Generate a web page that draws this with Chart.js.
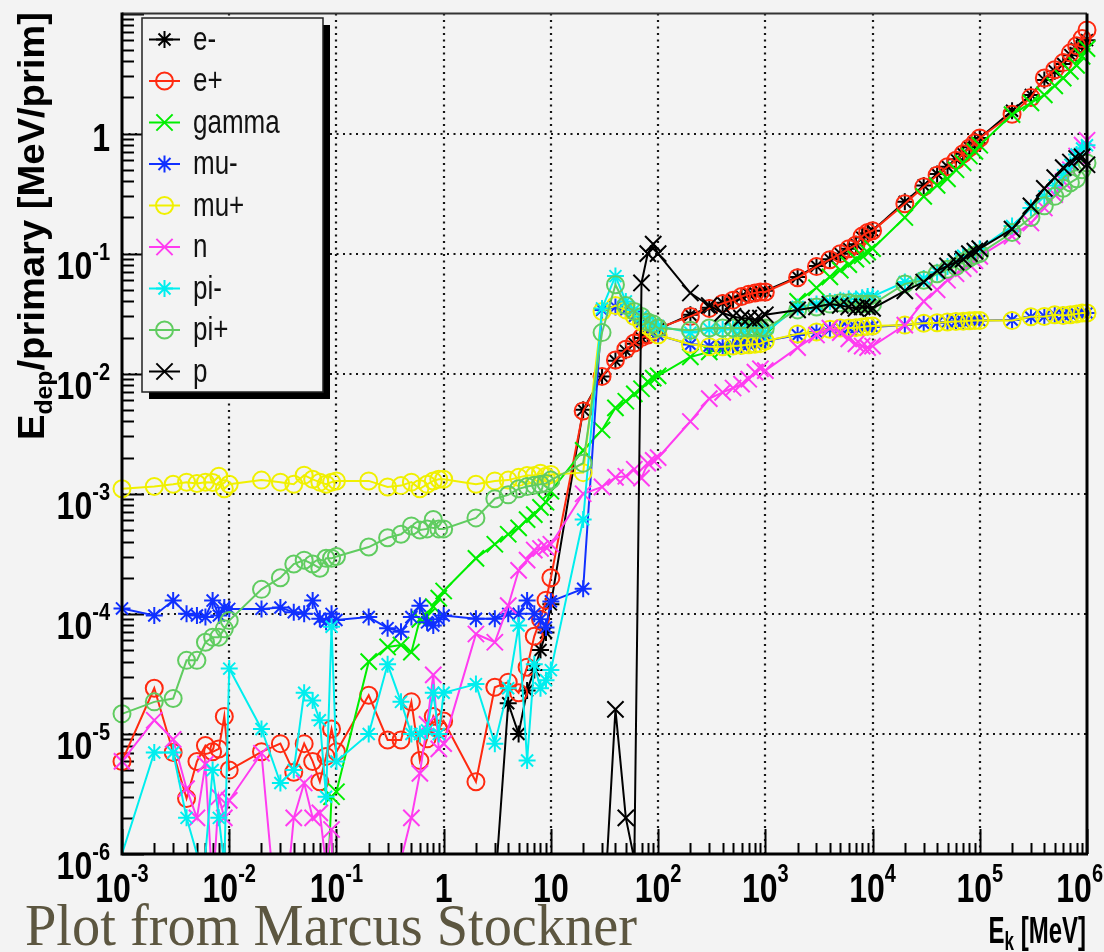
<!DOCTYPE html>
<html>
<head>
<meta charset="utf-8">
<script src="https://cdn.jsdelivr.net/npm/chart.js@4.4.1/dist/chart.umd.min.js"></script>
<style>
  html, body { margin: 0; padding: 0; background: #f3f3f3; }
  #wrap { width: 1104px; height: 952px; }
</style>
</head>
<body>
<div id="wrap"><canvas id="c" width="1104" height="952"></canvas></div>
<script>
// kinetic energy grid [MeV]
const energies = [
  0.001, 0.002, 0.003, 0.004, 0.005, 0.006, 0.007, 0.008, 0.009,
  0.01, 0.02, 0.03, 0.04, 0.05, 0.06, 0.07, 0.08, 0.09,
  0.1, 0.2, 0.3, 0.4, 0.5, 0.6, 0.7, 0.8, 0.9,
  1, 2, 3, 4, 5, 6, 7, 8, 9,
  10, 20, 30, 40, 50, 60, 70, 80, 90,
  100, 200, 300, 400, 500, 600, 700, 800, 900,
  1e3, 2e3, 3e3, 4e3, 5e3, 6e3, 7e3, 8e3, 9e3,
  1e4, 2e4, 3e4, 4e4, 5e4, 6e4, 7e4, 8e4, 9e4,
  1e5, 2e5, 3e5, 4e5, 5e5, 6e5, 7e5, 8e5, 9e5,
  1e6
];

const N = null;

const eMinus = [
  N, N, N, N, N, N, N, N, N,
  N, N, N, N, N, N, N, N, N,
  N, N, N, N, N, N, N, N, N,
  N, N, 5e-7, 1.8e-5, 1.0e-5, 2.3e-5, 3.4e-5, 5e-5, 7e-5,
  1.2e-4, 5.0e-3, 9.5e-3, 0.0128, 0.0155, 0.0178, 0.0198, 0.021, 0.022,
  0.0235, 0.031, 0.0355, 0.039, 0.0415, 0.044, 0.046, 0.047, 0.0485,
  0.049, 0.064, 0.079, 0.09, 0.1, 0.11, 0.12, 0.136, 0.148,
  0.155, 0.27, 0.37, 0.46, 0.53, 0.61, 0.68, 0.77, 0.84,
  0.92, 1.55, 2.1, 2.8, 3.3, 3.8, 4.5, 5.1, 5.6,
  6.0
];

const ePlus = [
  5.9e-6, 2.4e-5, 7e-6, 2.9e-6, 5.9e-6, 8e-6, 7.1e-6, 7.5e-6, 1.4e-5,
  5e-6, 7.1e-6, 8.3e-6, 4.8e-6, 8.3e-6, 5.9e-6, 4e-6, 6.5e-6, 1.1e-5,
  7.1e-6, 2.1e-5, 8.9e-6, 8.9e-6, 1.85e-5, 6e-6, 9.1e-6, 1.4e-5, 1.1e-5,
  1.28e-5, 4e-6, 2.45e-5, 2.7e-5, 2.2e-5, 3.6e-5, 6.5e-5, 9e-5, 1.3e-4,
  2e-4, 4.9e-3, 9.5e-3, 0.013, 0.016, 0.018, 0.02, 0.021, 0.022,
  0.024, 0.03, 0.035, 0.0385, 0.041, 0.044, 0.046, 0.047, 0.048,
  0.048, 0.063, 0.078, 0.089, 0.1, 0.11, 0.118, 0.14, 0.15,
  0.155, 0.26, 0.36, 0.45, 0.53, 0.6, 0.68, 0.76, 0.84,
  0.92, 1.45, 2.0, 2.9, 3.4, 3.9, 4.7, 5.4, 6.2,
  7.3
];

const gamma = [
  N, N, N, N, N, N, N, N, N,
  N, N, N, N, N, N, N, 3e-7, 3e-6,
  3.3e-6, 4e-5, 5.3e-5, 5.5e-5, 4.8e-5, 9e-5, 9.5e-5, 1.15e-4, 1.35e-4,
  1.55e-4, 2.9e-4, 3.8e-4, 4.6e-4, 5.2e-4, 6.1e-4, 6.7e-4, 7.7e-4, 8.5e-4,
  1.05e-3, 2.3e-3, 3.4e-3, 5.2e-3, 5.9e-3, 6.8e-3, 7.5e-3, 8.6e-3, 9.2e-3,
  9.6e-3, 0.0138, 0.0152, 0.016, 0.017, 0.018, 0.019, 0.0195, 0.02,
  0.021, 0.04, 0.052, 0.064, 0.073, 0.081, 0.09, 0.096, 0.103,
  0.11, 0.2, 0.3, 0.37, 0.42, 0.5, 0.57, 0.65, 0.71,
  0.8, 1.44, 1.8, 2.1, 2.5, 2.9, 3.3, 3.7, 4.4,
  5.1
];

const muMinus = [
  1.11e-4, 9.7e-5, 1.29e-4, 1.0e-4, 9.7e-5, 9.4e-5, 1.29e-4, 9.7e-5, 1.13e-4,
  1.1e-4, 1.1e-4, 1.13e-4, 1.03e-4, 1.0e-4, 1.29e-4, 9.1e-5, 8.6e-5, 1.0e-4,
  8.9e-5, 9.4e-5, 7.6e-5, 7.1e-5, 9.4e-5, 1.17e-4, 8.5e-5, 8.0e-5, 9.0e-5,
  9.7e-5, 9.1e-5, 9.1e-5, 1.0e-4, 1.0e-4, 1.29e-4, 1.0e-4, 9.0e-5, 7.7e-5,
  1.27e-4, 1.62e-4, 0.034, 0.036, 0.034, 0.03, 0.027, 0.025, 0.023,
  0.021, 0.0175, 0.017, 0.017, 0.0172, 0.0175, 0.0175, 0.0178, 0.018,
  0.0187, 0.021, 0.0223, 0.0235, 0.024, 0.024, 0.0242, 0.0245, 0.0245,
  0.0245, 0.0254, 0.0262, 0.0265, 0.027, 0.0272, 0.0272, 0.0275, 0.0277,
  0.0277, 0.028, 0.0295, 0.03, 0.031, 0.031, 0.0312, 0.0315, 0.032,
  0.032
];

const muPlus = [
  1.1e-3, 1.15e-3, 1.2e-3, 1.25e-3, 1.22e-3, 1.25e-3, 1.24e-3, 1.4e-3, 1.1e-3,
  1.2e-3, 1.3e-3, 1.25e-3, 1.2e-3, 1.43e-3, 1.32e-3, 1.25e-3, 1.2e-3, 1.25e-3,
  1.28e-3, 1.28e-3, 1.14e-3, 1.17e-3, 1.25e-3, 1.1e-3, 1.2e-3, 1.28e-3, 1.32e-3,
  1.32e-3, 1.2e-3, 1.28e-3, 1.3e-3, 1.37e-3, 1.42e-3, 1.42e-3, 1.48e-3, 1.4e-3,
  1.45e-3, 1.5e-3, 0.033, 0.037, 0.034, 0.03, 0.027, 0.025, 0.023,
  0.021, 0.0176, 0.0168, 0.0168, 0.017, 0.0172, 0.0174, 0.0176, 0.0178,
  0.0187, 0.0214, 0.0223, 0.0235, 0.024, 0.024, 0.0242, 0.0245, 0.0248,
  0.025, 0.0254, 0.0263, 0.0266, 0.027, 0.0272, 0.0274, 0.0276, 0.0277,
  0.0277, 0.0277, 0.0298, 0.03, 0.031, 0.0305, 0.031, 0.0315, 0.032,
  0.032
];

const neutron = [
  5.9e-6, 1.3e-5, 9e-6, 3.5e-6, 2e-6, 5.6e-6, 5e-7, 3e-6, 2e-6,
  2.8e-6, 6.9e-6, 1.3e-7, 2e-6, 3.9e-6, 2e-6, 2.2e-6, 8e-7, 1.6e-6,
  1e-8, 1e-8, 1e-8, 9e-7, 2e-6, 4.7e-6, 1.2e-5, 3.1e-5, 7.5e-6,
  8.3e-6, 6.8e-5, 5.8e-5, 1.17e-4, 2.3e-4, 2.8e-4, 3.4e-4, 3.5e-4, 3.6e-4,
  3.8e-4, 1e-3, 1.14e-3, 1.37e-3, 1.4e-3, 1.6e-3, 1.35e-3, 1.8e-3, 1.9e-3,
  2e-3, 4e-3, 6.2e-3, 7e-3, 7.6e-3, 8.2e-3, 9e-3, 0.0103, 0.011,
  0.0106, 0.0165, 0.021, 0.024, 0.022, 0.0195, 0.0177, 0.017, 0.0165,
  0.017, 0.0254, 0.04, 0.05, 0.06, 0.068, 0.075, 0.081, 0.087,
  0.095, 0.14, 0.18, 0.24, 0.31, 0.4, 0.5, 0.65, 0.8,
  0.88
];

const piMinus = [
  1e-6, 7e-6, 7e-6, 2e-6, 1e-6, 1e-6, 5e-6, 2e-6, 8e-7,
  3.5e-5, 1.1e-5, 3.9e-6, 5e-6, 2.2e-5, 1.9e-5, 1.3e-5, 3e-6, 7.8e-5,
  5.9e-6, 1.0e-5, 3.8e-5, 1.85e-5, 1.0e-5, 1.0e-5, 1.07e-5, 2.2e-5, 1.0e-5,
  2.2e-5, 2.6e-5, 8.3e-6, 2.4e-5, 8e-5, 6e-6, 3.8e-5, 2.4e-5, 2.8e-5,
  3.4e-5, 6.1e-4, 0.035, 0.065, 0.04, 0.034, 0.03, 0.027, 0.026,
  0.025, 0.022, 0.0235, 0.0235, 0.0235, 0.0235, 0.024, 0.024, 0.024,
  0.022, 0.036, 0.038, 0.04, 0.041, 0.042, 0.042, 0.043, 0.044,
  0.044, 0.058, 0.062, 0.07, 0.078, 0.085, 0.096, 0.1, 0.105,
  0.11, 0.17, 0.24, 0.3, 0.37, 0.45, 0.55, 0.67, 0.75,
  0.8
];

const piPlus = [
  1.47e-5, 1.85e-5, 1.97e-5, 4.1e-5, 4.1e-5, 5.8e-5, 6.4e-5, 6.4e-5, 7.5e-5,
  8.8e-5, 1.6e-4, 2.0e-4, 2.6e-4, 2.8e-4, 2.6e-4, 2.4e-4, 2.9e-4, 2.9e-4,
  3.0e-4, 3.6e-4, 4.3e-4, 4.6e-4, 5.4e-4, 5.0e-4, 5.1e-4, 6.1e-4, 5.1e-4,
  5.1e-4, 6.3e-4, 9.1e-4, 9.8e-4, 1.1e-3, 1.15e-3, 1.18e-3, 1.2e-3, 1.22e-3,
  1.3e-3, 1.8e-3, 0.022, 0.055, 0.037, 0.033, 0.03, 0.027, 0.026,
  0.024, 0.023, 0.024, 0.024, 0.024, 0.024, 0.024, 0.024, 0.024,
  0.024, 0.034, 0.036, 0.038, 0.039, 0.039, 0.038, 0.038, 0.038,
  0.038, 0.056, 0.06, 0.068, 0.074, 0.078, 0.085, 0.092, 0.097,
  0.1, 0.15, 0.2, 0.25, 0.3, 0.35, 0.39, 0.42, 0.5,
  0.57
];

const proton = [
  N, N, N, N, N, N, N, N, N,
  N, N, N, N, N, N, N, N, N,
  N, N, N, N, N, N, N, N, N,
  N, N, N, N, N, N, N, N, N,
  N, N, 1.7e-7, 1.6e-5, 2e-6, 9e-7, 0.057, 0.1, 0.12,
  0.1, 0.047, 0.037, 0.032, 0.03, 0.029, 0.029, 0.028, 0.029,
  0.031, 0.034, 0.036, 0.038, 0.037, 0.036, 0.035, 0.036, 0.036,
  0.035, 0.049, 0.058, 0.072, 0.079, 0.085, 0.09, 0.1, 0.105,
  0.11, 0.16, 0.25, 0.35, 0.43, 0.52, 0.58, 0.62, 0.64,
  0.55
];

const seriesNames = ['e-', 'e+', 'gamma', 'mu-', 'mu+', 'n', 'pi-', 'pi+', 'p'];
const seriesValues = [eMinus, ePlus, gamma, muMinus, muPlus, neutron, piMinus, piPlus, proton];
const seriesColors = ['#000000', '#ff2a10', '#00ee00', '#1030ff', '#f0f000', '#ff3cf0', '#00eeee', '#60cc60', '#000000'];
const seriesMarkers = ['star', 'circle', 'crossRot', 'star', 'circle', 'crossRot', 'star', 'circle', 'crossRot'];

const xTickValues = [1e-3, 1e-2, 1e-1, 1, 10, 1e2, 1e3, 1e4, 1e5, 1e6];
const xTickLabels = ['10^-3', '10^-2', '10^-1', '1', '10', '10^2', '10^3', '10^4', '10^5', '10^6'];
const yTickValues = [1e-6, 1e-5, 1e-4, 1e-3, 1e-2, 1e-1, 1];
const yTickLabels = ['10^-6', '10^-5', '10^-4', '10^-3', '10^-2', '10^-1', '1'];

const markerRadius = { star: 8.5, circle: 8.5, crossRot: 11.5 };

function boldFont(px) { return 'bold ' + px + 'px "Liberation Sans", Arial, Helvetica, sans-serif'; }
function plainFont(px) { return px + 'px "Liberation Sans", Arial, Helvetica, sans-serif'; }

function stretchText(c, s, x, y, font, sy) {
  c.save();
  c.font = font;
  c.textAlign = 'left';
  c.textBaseline = 'alphabetic';
  c.translate(x, y);
  c.scale(1, sy);
  c.fillText(s, 0, 0);
  c.restore();
}

// "10^-3" -> 10 with a raised exponent
function powerLabel(c, label, x, y, align, baseSize, expSize, sy, rise, maxRight) {
  const parts = label.split('^');
  c.font = boldFont(baseSize);
  const wb = c.measureText(parts[0]).width;
  let we = 0;
  if (parts[1]) { c.font = boldFont(expSize); we = c.measureText(parts[1]).width; }
  const total = wb + we;
  let x0 = align === 'right' ? x - total : (align === 'center' ? x - total / 2 : x);
  if (maxRight && x0 + total > maxRight) x0 = maxRight - total;
  stretchText(c, parts[0], x0, y, boldFont(baseSize), sy);
  if (parts[1]) stretchText(c, parts[1], x0 + wb, y - rise, boldFont(expSize), sy);
}

const rootLook = {
  id: 'rootLook',
  beforeDraw(chart) {
    const c = chart.ctx;
    c.save();
    c.fillStyle = '#f3f3f3';
    c.fillRect(0, 0, chart.width, chart.height);
    c.restore();
  },
  beforeDatasetsDraw(chart) {
    const c = chart.ctx;
    const a = chart.chartArea;
    const xs = chart.scales.x, ys = chart.scales.y;
    c.save();
    // dotted grid at the decades
    c.strokeStyle = '#141414';
    c.lineWidth = 2.2;
    c.setLineDash([2, 4.5]);
    xTickValues.forEach(v => {
      const px = Math.round(xs.getPixelForValue(v));
      if (px <= a.left + 2 || px >= a.right - 2) return;
      c.beginPath(); c.moveTo(px, a.bottom); c.lineTo(px, a.top); c.stroke();
    });
    yTickValues.forEach(v => {
      const py = Math.round(ys.getPixelForValue(v));
      if (py >= a.bottom - 2 || py <= a.top + 2) return;
      c.beginPath(); c.moveTo(a.left, py); c.lineTo(a.right, py); c.stroke();
    });
    c.setLineDash([]);
    // tick marks inside the frame
    c.strokeStyle = '#000';
    c.lineWidth = 2;
    for (let n = -3; n <= 6; n++) {
      for (let d = 1; d <= 9; d++) {
        const v = d * Math.pow(10, n);
        if (v > 1e6 * 1.0001) break;
        const px = Math.round(xs.getPixelForValue(v)) + 0.5;
        const len = d === 1 ? 25 : 11;
        c.beginPath(); c.moveTo(px, a.bottom); c.lineTo(px, a.bottom - len); c.stroke();
      }
    }
    for (let n = -6; n <= 1; n++) {
      for (let d = 1; d <= 9; d++) {
        const v = d * Math.pow(10, n);
        if (v > 10 * 1.0001) break;
        const py = Math.round(ys.getPixelForValue(v)) + 0.5;
        const len = d === 1 ? 22 : 12;
        c.beginPath(); c.moveTo(a.left, py); c.lineTo(a.left + len, py); c.stroke();
      }
    }
    c.restore();
  },
  afterDatasetsDraw(chart) {
    const c = chart.ctx;
    const a = chart.chartArea;
    const xs = chart.scales.x, ys = chart.scales.y;
    c.save();
    // frame
    c.strokeStyle = '#333';
    c.lineWidth = 2;
    c.beginPath(); c.moveTo(a.left, a.top); c.lineTo(a.right, a.top); c.stroke();
    c.strokeStyle = '#000';
    c.lineWidth = 3;
    c.beginPath(); c.moveTo(a.right, a.top); c.lineTo(a.right, a.bottom); c.stroke();
    c.beginPath(); c.moveTo(a.left, a.top - 1); c.lineTo(a.left, a.bottom); c.lineTo(a.right + 1, a.bottom); c.stroke();

    // tick labels
    c.fillStyle = '#000';
    xTickValues.forEach((v, i) => {
      powerLabel(c, xTickLabels[i], xs.getPixelForValue(v), 902, 'center', 32, 20, 1.25, 20, 1103);
    });
    yTickValues.forEach((v, i) => {
      const py = ys.getPixelForValue(v);
      const lab = yTickLabels[i];
      const base = lab.indexOf('^') >= 0 ? py + 25 : py + 17;
      powerLabel(c, lab, 110, base, 'right', 32, 20, 1.2, 19);
    });

    // axis titles
    const xParts = [['E', 24, 0], ['k', 17, 7], [' [MeV]', 24, 0]];
    let xw = 0;
    xParts.forEach(p => { c.font = boldFont(p[1]); p.w = c.measureText(p[0]).width; xw += p.w; });
    let xx = 1086 - xw;
    xParts.forEach(p => { stretchText(c, p[0], xx, 943 + p[2], boldFont(p[1]), 1.55); xx += p.w; });

    c.save();
    c.translate(44, 440);
    c.rotate(-Math.PI / 2);
    const yParts = [['E', 37, 0], ['dep', 24, 8], ['/primary [MeV/prim]', 37, 0]];
    let yw = 0;
    yParts.forEach(p => { c.font = boldFont(p[1]); p.w = c.measureText(p[0]).width; yw += p.w; });
    c.scale(428 / yw, 1);
    let yy = 0;
    yParts.forEach(p => { c.font = boldFont(p[1]); c.fillText(p[0], yy, p[2]); yy += p.w; });
    c.restore();

    // legend box with shadow
    const lx = 142, ly = 18, lw = 181, lh = 374;
    c.fillStyle = '#000';
    c.fillRect(lx + 7, ly + 7, lw, lh);
    c.fillStyle = '#f3f3f3';
    c.fillRect(lx, ly, lw, lh);
    c.strokeStyle = '#222';
    c.lineWidth = 1.5;
    c.strokeRect(lx, ly, lw, lh);
    seriesNames.forEach((name, i) => {
      const ry = 39.5 + i * 41.5;
      c.strokeStyle = seriesColors[i];
      c.fillStyle = 'rgba(0,0,0,0)';
      c.lineWidth = 2;
      c.beginPath(); c.moveTo(149, ry); c.lineTo(180, ry); c.stroke();
      Chart.helpers.drawPoint(c, {
        pointStyle: seriesMarkers[i], rotation: 0,
        radius: markerRadius[seriesMarkers[i]], borderWidth: 2
      }, 164.5, ry);
      c.fillStyle = '#111';
      stretchText(c, name, 193, ry + 10, plainFont(26), 1.3);
    });

    // credit line
    c.font = '56px "Liberation Serif", "DejaVu Serif", serif';
    const credit = 'Plot from Marcus Stockner';
    const cw = c.measureText(credit).width;
    c.save();
    c.fillStyle = '#5c5640';
    c.translate(25, 945);
    c.scale(612 / cw, 1.05);
    c.fillText(credit, 0, 0);
    c.restore();
    c.restore();
  }
};

const datasets = seriesNames.map((name, i) => {
  const pts = [];
  seriesValues[i].forEach((v, k) => { if (v !== null) pts.push({ x: energies[k], y: v }); });
  return {
    label: name,
    data: pts,
    borderColor: seriesColors[i],
    backgroundColor: 'rgba(0,0,0,0)',
    borderWidth: 2,
    pointStyle: seriesMarkers[i],
    pointRadius: ctx => (ctx.raw && ctx.raw.y > 1e-6) ? markerRadius[seriesMarkers[i]] : 0,
    pointBorderWidth: 2,
    pointBorderColor: seriesColors[i],
    pointBackgroundColor: 'rgba(0,0,0,0)',
    pointHoverRadius: 0,
    tension: 0,
    order: seriesNames.length - i,
    clip: { left: 10, top: 10, right: 10, bottom: 0 }
  };
});

new Chart(document.getElementById('c'), {
  type: 'line',
  data: { datasets: datasets },
  options: {
    responsive: false,
    animation: false,
    events: [],
    layout: { padding: { left: 122, right: 17, top: 12, bottom: 98 } },
    plugins: { legend: { display: false }, tooltip: { enabled: false } },
    scales: {
      x: {
        type: 'logarithmic', min: 1e-3, max: 1e6,
        ticks: { display: false },
        grid: { display: false, drawTicks: false },
        border: { display: false }
      },
      y: {
        type: 'logarithmic', min: 1e-6, max: 10,
        ticks: { display: false },
        grid: { display: false, drawTicks: false },
        border: { display: false }
      }
    }
  },
  plugins: [rootLook]
});
</script>
</body>
</html>
